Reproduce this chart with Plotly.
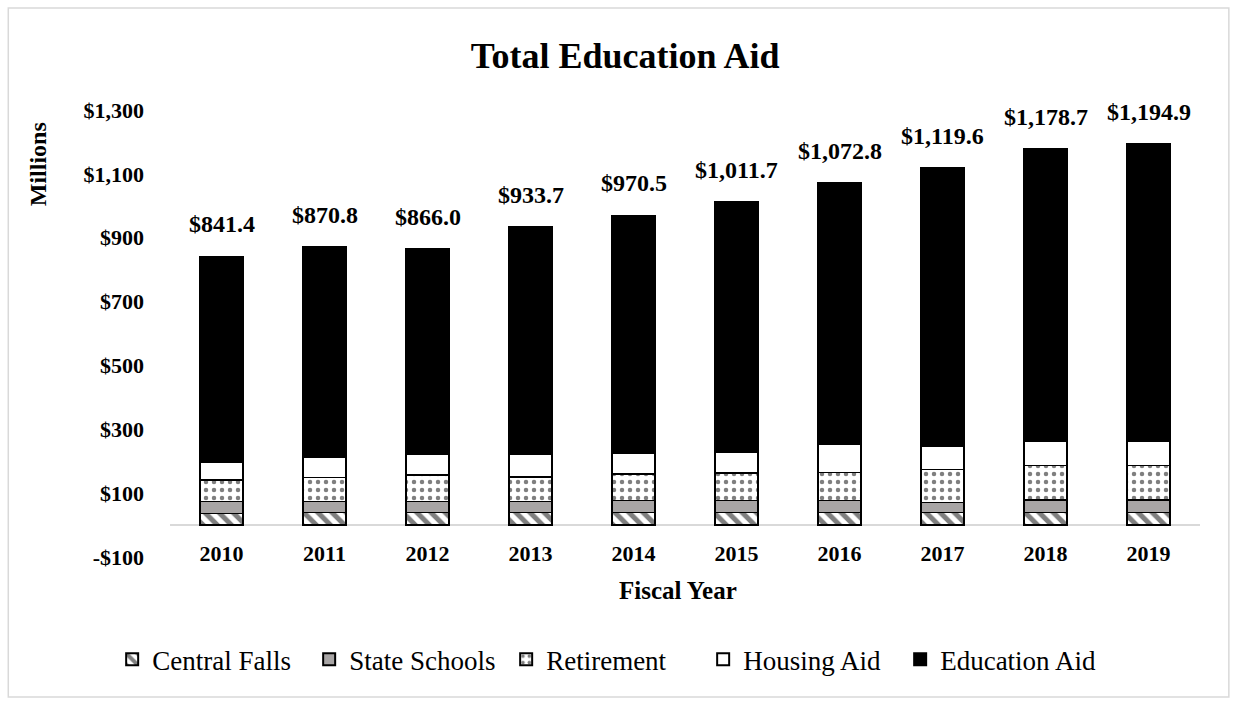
import plotly.graph_objects as go

years = ["2010", "2011", "2012", "2013", "2014", "2015", "2016", "2017", "2018", "2019"]
central_falls = [37, 39, 39, 39, 40, 40, 40, 40, 40, 40]
state_schools = [36, 34, 34, 35, 37, 37, 37, 31, 39, 39]
retirement = [68, 75, 84, 77, 83, 86, 88, 104, 107, 107]
housing_aid = [57, 63, 63, 69, 65, 65, 87, 73, 75, 75]
education_aid = [643.4, 659.8, 646.0, 713.7, 745.5, 783.7, 820.8, 871.6, 917.7, 933.9]
totals = [841.4, 870.8, 866.0, 933.7, 970.5, 1011.7, 1072.8, 1119.6, 1178.7, 1194.9]
total_labels = ["$841.4", "$870.8", "$866.0", "$933.7", "$970.5", "$1,011.7",
                "$1,072.8", "$1,119.6", "$1,178.7", "$1,194.9"]
y_tickvals = [-100, 100, 300, 500, 700, 900, 1100, 1300]
y_ticktext = ["-$100", "$100", "$300", "$500", "$700", "$900", "$1,100", "$1,300"]

SERIF = "Liberation Serif, Times New Roman, serif"
line = dict(color="black", width=1.3)

fig = go.Figure()
fig.add_trace(go.Bar(
    x=years, y=central_falls, name="Central Falls",
    marker=dict(color="white", line=line,
                pattern=dict(shape="\\", fgcolor="black", bgcolor="white",
                             size=10, solidity=0.5)),
))
fig.add_trace(go.Bar(
    x=years, y=state_schools, name="State Schools",
    marker=dict(color="#a8a5a5", line=line),
))
fig.add_trace(go.Bar(
    x=years, y=retirement, name="Retirement",
    marker=dict(color="white", line=line,
                pattern=dict(shape=".", fgcolor="black", bgcolor="white",
                             size=8, solidity=0.25)),
))
fig.add_trace(go.Bar(
    x=years, y=housing_aid, name="Housing Aid",
    marker=dict(color="white", line=line),
))
fig.add_trace(go.Bar(
    x=years, y=education_aid, name="Education Aid",
    marker=dict(color="black", line=line),
))

for i, (tot, lab) in enumerate(zip(totals, total_labels)):
    fig.add_annotation(x=i, y=tot, text=lab, showarrow=False,
                       xref="x", yref="y", yanchor="bottom", yshift=17,
                       font=dict(family=SERIF, size=24, color="black", weight="bold"))

# axis titles
fig.add_annotation(text="Millions", xref="paper", yref="paper",
                   x=-0.128, y=0.879, xanchor="center", yanchor="middle",
                   textangle=-90, showarrow=False,
                   font=dict(family=SERIF, size=24, color="black", weight="bold"))
fig.add_annotation(text="Fiscal Year", xref="paper", yref="paper",
                   x=0.493, y=-0.076, xanchor="center", yanchor="middle",
                   showarrow=False,
                   font=dict(family=SERIF, size=25, color="black", weight="bold"))

# outer chart border
fig.add_shape(type="rect", xref="paper", yref="paper",
              x0=-0.157, x1=1.028, y0=-0.313, y1=1.228,
              line=dict(color="#d9d9d9", width=1.5), fillcolor="rgba(0,0,0,0)",
              layer="below")

fig.update_layout(
    width=1238, height=705,
    margin=dict(l=170, r=38, t=110, b=148),
    paper_bgcolor="white", plot_bgcolor="white",
    font=dict(family=SERIF, color="black"),
    barmode="stack", bargap=0.58,
    title=dict(text="Total Education Aid", x=0.505, xref="container",
               y=1 - 55 / 705, yref="container", xanchor="center", yanchor="middle",
               font=dict(family=SERIF, size=36, color="black", weight="bold")),
    legend=dict(orientation="h", x=0.422, xanchor="center", y=-0.23, yanchor="middle",
                font=dict(family=SERIF, size=27, color="black"),
                entrywidth=152, entrywidthmode="pixels",
                traceorder="normal", itemsizing="constant"),
    xaxis=dict(type="category", range=[-0.5, 9.5], showline=False, showgrid=False,
               ticks="", anchor="free", position=0.042,
               tickfont=dict(family=SERIF, size=22, color="black", weight="bold")),
    yaxis=dict(range=[-100, 1300], tickvals=y_tickvals, ticktext=y_ticktext,
               showgrid=False, showline=False, ticks="",
               zeroline=True, zerolinecolor="#d9d9d9", zerolinewidth=2,
               ticklabelstandoff=25,
               tickfont=dict(family=SERIF, size=22, color="black", weight="bold")),
    showlegend=True,
)

fig.write_html("out.html")
